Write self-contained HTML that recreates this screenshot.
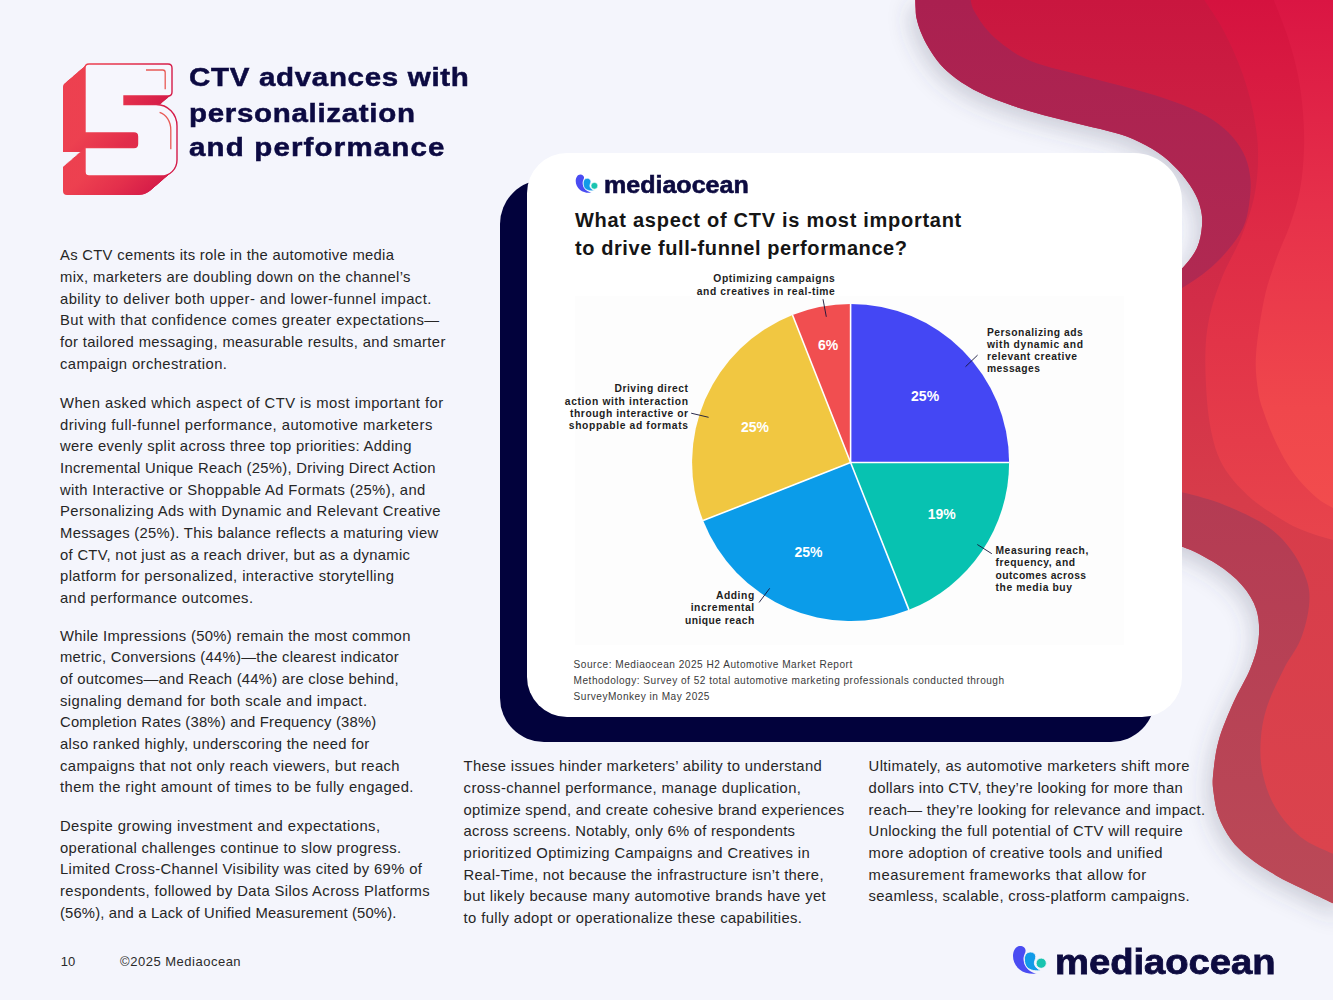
<!DOCTYPE html>
<html><head><meta charset="utf-8">
<style>
*{margin:0;padding:0;box-sizing:border-box}
html,body{width:1333px;height:1000px;overflow:hidden;background:#f4f5fc}
body{position:relative;font-family:"Liberation Sans",sans-serif}
.abs{position:absolute;left:0;top:0}
.t{position:absolute;white-space:nowrap;line-height:1;font-family:"Liberation Sans",sans-serif}
.navy{position:absolute;left:499.5px;top:180px;width:655px;height:561.5px;background:#02023c;border-radius:44px}
.card{position:absolute;left:527px;top:153px;width:655px;height:564px;background:#fff;border-radius:40px 48px 40px 40px}
.chartbg{position:absolute;left:575px;top:296px;width:549px;height:349px;background:#fdfdfd}
</style></head><body>
<svg class="abs" width="1333" height="1000" viewBox="0 0 1333 1000">
<defs>
<filter id="sh" x="-20%" y="-20%" width="140%" height="140%"><feGaussianBlur in="SourceAlpha" stdDeviation="11" result="b"/><feOffset in="b" dx="-5" dy="8" result="o"/><feFlood flood-color="#474a62" flood-opacity="0.24"/><feComposite operator="in" in2="o"/></filter>
<linearGradient id="gb" x1="0" y1="0" x2="0" y2="1000" gradientUnits="userSpaceOnUse"><stop offset="0" stop-color="#c9163f"/><stop offset="0.3" stop-color="#d22d48"/><stop offset="0.5" stop-color="#d73c4a"/><stop offset="0.85" stop-color="#db434d"/></linearGradient>
<linearGradient id="gm1" x1="0" y1="0" x2="0" y2="300" gradientUnits="userSpaceOnUse"><stop offset="0" stop-color="#aa2050"/><stop offset="1" stop-color="#b12a52"/></linearGradient>
<linearGradient id="gm2" x1="0" y1="490" x2="0" y2="900" gradientUnits="userSpaceOnUse"><stop offset="0" stop-color="#b43b53"/><stop offset="1" stop-color="#bb4957"/></linearGradient>
<linearGradient id="g3" x1="0" y1="0" x2="0" y2="540" gradientUnits="userSpaceOnUse"><stop offset="0" stop-color="#d5123f"/><stop offset="0.45" stop-color="#df2c46"/><stop offset="1" stop-color="#e8444c"/></linearGradient>
<linearGradient id="g4" x1="0" y1="0" x2="0" y2="510" gradientUnits="userSpaceOnUse"><stop offset="0" stop-color="#da1543"/><stop offset="0.4" stop-color="#e6304a"/><stop offset="0.8" stop-color="#f0474c"/><stop offset="1" stop-color="#f24c4d"/></linearGradient>
</defs>
<g>
<path d="M915.2,-2.0 C915.3,-0.3 915.4,4.7 915.6,8.0 C915.8,11.3 915.6,14.0 916.5,18.0 C917.4,22.0 918.8,27.0 920.8,32.0 C922.8,37.0 925.6,42.7 928.8,48.0 C932.0,53.3 935.5,58.9 940.0,64.0 C944.5,69.1 949.3,73.6 956.0,78.4 C962.7,83.2 970.7,88.3 980.0,92.8 C989.3,97.3 1001.3,101.9 1012.0,105.6 C1022.7,109.3 1033.3,112.3 1044.0,115.2 C1054.7,118.1 1065.3,120.6 1076.0,123.2 C1086.7,125.8 1098.5,128.4 1108.0,131.0 C1117.5,133.6 1124.7,135.4 1133.0,139.0 C1141.3,142.6 1150.5,147.3 1158.0,152.5 C1165.5,157.7 1172.2,163.8 1178.0,170.0 C1183.8,176.2 1189.2,183.7 1193.0,190.0 C1196.8,196.3 1199.0,202.0 1200.5,208.0 C1202.0,214.0 1202.6,219.3 1202.0,226.0 C1201.4,232.7 1200.2,241.1 1197.0,248.0 C1193.8,254.9 1188.3,261.8 1183.0,267.5 C1177.7,273.2 1168.0,279.6 1165.0,282.0 L1150,300 L1150,540 L1160,545 C1163.8,545.3 1173.6,543.8 1183.0,547.0 C1192.4,550.2 1206.8,557.7 1216.6,564.0 C1226.4,570.3 1235.1,577.3 1241.8,585.0 C1248.5,592.7 1253.7,600.9 1256.5,610.0 C1259.3,619.1 1259.6,629.8 1258.6,639.6 C1257.5,649.4 1254.4,658.5 1250.2,669.0 C1246.0,679.5 1238.7,690.7 1233.4,702.6 C1228.2,714.5 1222.1,728.5 1218.7,740.4 C1215.3,752.3 1214.1,765.4 1213.2,774.0 C1212.3,782.6 1212.6,785.0 1213.5,792.0 C1214.4,799.0 1215.5,808.1 1218.4,816.0 C1221.3,823.9 1225.9,832.5 1231.0,839.4 C1236.1,846.3 1241.5,851.4 1249.0,857.4 C1256.5,863.4 1267.0,870.1 1276.0,875.4 C1285.0,880.7 1293.5,884.4 1303.0,889.0 C1312.5,893.6 1326.0,899.9 1333.0,903.3 C1340.0,906.7 1343.0,908.5 1345.0,909.5 L1345,-2 Z" fill="#000" filter="url(#sh)"/>
<path d="M915.2,-2.0 C915.3,-0.3 915.4,4.7 915.6,8.0 C915.8,11.3 915.6,14.0 916.5,18.0 C917.4,22.0 918.8,27.0 920.8,32.0 C922.8,37.0 925.6,42.7 928.8,48.0 C932.0,53.3 935.5,58.9 940.0,64.0 C944.5,69.1 949.3,73.6 956.0,78.4 C962.7,83.2 970.7,88.3 980.0,92.8 C989.3,97.3 1001.3,101.9 1012.0,105.6 C1022.7,109.3 1033.3,112.3 1044.0,115.2 C1054.7,118.1 1065.3,120.6 1076.0,123.2 C1086.7,125.8 1098.5,128.4 1108.0,131.0 C1117.5,133.6 1124.7,135.4 1133.0,139.0 C1141.3,142.6 1150.5,147.3 1158.0,152.5 C1165.5,157.7 1172.2,163.8 1178.0,170.0 C1183.8,176.2 1189.2,183.7 1193.0,190.0 C1196.8,196.3 1199.0,202.0 1200.5,208.0 C1202.0,214.0 1202.6,219.3 1202.0,226.0 C1201.4,232.7 1200.2,241.1 1197.0,248.0 C1193.8,254.9 1188.3,261.8 1183.0,267.5 C1177.7,273.2 1168.0,279.6 1165.0,282.0 L1150,300 L1150,540 L1160,545 C1163.8,545.3 1173.6,543.8 1183.0,547.0 C1192.4,550.2 1206.8,557.7 1216.6,564.0 C1226.4,570.3 1235.1,577.3 1241.8,585.0 C1248.5,592.7 1253.7,600.9 1256.5,610.0 C1259.3,619.1 1259.6,629.8 1258.6,639.6 C1257.5,649.4 1254.4,658.5 1250.2,669.0 C1246.0,679.5 1238.7,690.7 1233.4,702.6 C1228.2,714.5 1222.1,728.5 1218.7,740.4 C1215.3,752.3 1214.1,765.4 1213.2,774.0 C1212.3,782.6 1212.6,785.0 1213.5,792.0 C1214.4,799.0 1215.5,808.1 1218.4,816.0 C1221.3,823.9 1225.9,832.5 1231.0,839.4 C1236.1,846.3 1241.5,851.4 1249.0,857.4 C1256.5,863.4 1267.0,870.1 1276.0,875.4 C1285.0,880.7 1293.5,884.4 1303.0,889.0 C1312.5,893.6 1326.0,899.9 1333.0,903.3 C1340.0,906.7 1343.0,908.5 1345.0,909.5 L1345,-2 Z" fill="url(#gb)"/>
<path d="M915.2,-2.0 C915.3,-0.3 915.4,4.7 915.6,8.0 C915.8,11.3 915.6,14.0 916.5,18.0 C917.4,22.0 918.8,27.0 920.8,32.0 C922.8,37.0 925.6,42.7 928.8,48.0 C932.0,53.3 935.5,58.9 940.0,64.0 C944.5,69.1 949.3,73.6 956.0,78.4 C962.7,83.2 970.7,88.3 980.0,92.8 C989.3,97.3 1001.3,101.9 1012.0,105.6 C1022.7,109.3 1033.3,112.3 1044.0,115.2 C1054.7,118.1 1065.3,120.6 1076.0,123.2 C1086.7,125.8 1098.5,128.4 1108.0,131.0 C1117.5,133.6 1124.7,135.4 1133.0,139.0 C1141.3,142.6 1150.5,147.3 1158.0,152.5 C1165.5,157.7 1172.2,163.8 1178.0,170.0 C1183.8,176.2 1189.2,183.7 1193.0,190.0 C1196.8,196.3 1199.0,202.0 1200.5,208.0 C1202.0,214.0 1202.6,219.3 1202.0,226.0 C1201.4,232.7 1200.2,241.1 1197.0,248.0 C1193.8,254.9 1188.3,261.8 1183.0,267.5 C1177.7,273.2 1168.0,279.6 1165.0,282.0 L1160.0,300.0 C1163.8,297.9 1175.0,292.5 1183.0,287.5 C1191.0,282.5 1200.5,276.2 1208.0,270.0 C1215.5,263.8 1222.2,257.0 1228.0,250.0 C1233.8,243.0 1239.5,235.5 1243.0,228.0 C1246.5,220.5 1247.8,213.0 1249.0,205.0 C1250.2,197.0 1251.1,187.9 1250.5,180.0 C1249.9,172.1 1248.4,164.6 1245.5,157.5 C1242.6,150.4 1238.4,143.8 1233.0,137.5 C1227.6,131.2 1221.3,125.4 1213.0,120.0 C1204.7,114.6 1194.2,109.6 1183.0,105.0 C1171.8,100.4 1158.0,96.2 1145.5,92.5 C1133.0,88.8 1119.6,85.6 1108.0,82.5 C1096.4,79.4 1086.7,76.8 1076.0,74.0 C1065.3,71.2 1053.3,68.6 1044.0,65.6 C1034.7,62.6 1027.5,60.0 1020.0,56.0 C1012.5,52.0 1005.1,46.4 999.2,41.6 C993.3,36.8 988.8,32.0 984.8,27.2 C980.8,22.4 977.3,16.3 975.2,12.8 C973.1,9.3 972.8,8.5 972.0,6.0 C971.2,3.5 970.7,-0.7 970.4,-2.0 Z" fill="url(#gm1)"/>
<path d="M1203.0,-2.0 C1205.9,2.5 1215.5,16.3 1220.5,25.0 C1225.5,33.7 1229.2,41.7 1233.0,50.0 C1236.8,58.3 1240.1,66.7 1243.0,75.0 C1245.9,83.3 1248.4,91.7 1250.5,100.0 C1252.6,108.3 1254.2,116.7 1255.5,125.0 C1256.8,133.3 1257.8,141.2 1258.0,150.0 C1258.2,158.8 1258.0,168.7 1257.0,178.0 C1256.0,187.3 1254.8,195.7 1252.0,206.0 C1249.2,216.3 1244.8,228.5 1240.0,240.0 C1235.2,251.5 1227.9,262.9 1223.0,275.0 C1218.1,287.1 1213.4,300.0 1210.5,312.5 C1207.6,325.0 1206.1,335.4 1205.5,350.0 C1204.9,364.6 1205.9,385.8 1207.0,400.0 C1208.1,414.2 1209.8,425.0 1212.0,435.0 C1214.2,445.0 1216.5,452.5 1220.0,460.0 C1223.5,467.5 1227.5,473.3 1233.0,480.0 C1238.5,486.7 1246.3,494.3 1253.0,500.0 C1259.7,505.7 1266.3,509.7 1273.0,514.0 C1279.7,518.3 1286.3,522.7 1293.0,526.0 C1299.7,529.3 1306.3,531.7 1313.0,534.0 C1319.7,536.3 1327.7,538.5 1333.0,540.0 C1338.3,541.5 1343.0,542.5 1345.0,543.0 L1345,-2 Z" fill="url(#g3)"/>
<path d="M1273.0,-2.0 C1275.5,4.6 1283.8,24.7 1288.0,37.5 C1292.2,50.3 1295.5,62.5 1298.0,75.0 C1300.5,87.5 1302.0,100.0 1303.0,112.5 C1304.0,125.0 1304.5,137.1 1304.0,150.0 C1303.5,162.9 1302.3,177.5 1300.0,190.0 C1297.7,202.5 1294.0,213.3 1290.0,225.0 C1286.0,236.7 1280.3,247.5 1276.0,260.0 C1271.7,272.5 1267.3,284.2 1264.0,300.0 C1260.7,315.8 1257.0,340.0 1256.0,355.0 C1255.0,370.0 1256.8,380.8 1258.0,390.0 C1259.2,399.2 1260.5,402.3 1263.0,410.0 C1265.5,417.7 1269.3,427.7 1273.0,436.0 C1276.7,444.3 1280.7,452.7 1285.0,460.0 C1289.3,467.3 1293.7,473.7 1299.0,480.0 C1304.3,486.3 1311.3,493.3 1317.0,498.0 C1322.7,502.7 1328.3,505.5 1333.0,508.0 C1337.7,510.5 1343.0,512.2 1345.0,513.0 L1345,-2 Z" fill="url(#g4)"/>
<path d="M1160.0,545.0 C1163.8,545.3 1173.6,543.8 1183.0,547.0 C1192.4,550.2 1206.8,557.7 1216.6,564.0 C1226.4,570.3 1235.1,577.3 1241.8,585.0 C1248.5,592.7 1253.7,600.9 1256.5,610.0 C1259.3,619.1 1259.6,629.8 1258.6,639.6 C1257.5,649.4 1254.4,658.5 1250.2,669.0 C1246.0,679.5 1238.7,690.7 1233.4,702.6 C1228.2,714.5 1222.1,728.5 1218.7,740.4 C1215.3,752.3 1214.1,765.4 1213.2,774.0 C1212.3,782.6 1212.6,785.0 1213.5,792.0 C1214.4,799.0 1215.5,808.1 1218.4,816.0 C1221.3,823.9 1225.9,832.5 1231.0,839.4 C1236.1,846.3 1241.5,851.4 1249.0,857.4 C1256.5,863.4 1267.0,870.1 1276.0,875.4 C1285.0,880.7 1293.5,884.4 1303.0,889.0 C1312.5,893.6 1326.0,899.9 1333.0,903.3 C1340.0,906.7 1343.0,908.5 1345.0,909.5 L1345.0,858.0 C1343.0,857.3 1340.4,857.3 1333.0,853.8 C1325.6,850.3 1310.2,844.7 1300.6,837.0 C1291.0,829.3 1281.7,818.1 1275.4,807.6 C1269.1,797.1 1265.2,785.2 1262.8,774.0 C1260.3,762.8 1260.0,751.6 1260.7,740.4 C1261.4,729.2 1263.2,718.7 1267.0,706.8 C1270.8,694.9 1278.2,680.2 1283.8,669.0 C1289.4,657.8 1296.4,650.1 1300.6,639.6 C1304.8,629.1 1308.0,615.8 1309.0,606.0 C1310.0,596.2 1309.7,589.9 1306.9,580.8 C1304.1,571.7 1298.9,560.5 1292.2,551.4 C1285.5,542.3 1278.2,533.9 1267.0,526.2 C1255.8,518.5 1239.0,510.8 1225.0,505.2 C1211.0,499.6 1193.8,495.1 1183.0,492.6 C1172.2,490.1 1163.8,490.4 1160.0,490.0 Z" fill="url(#gm2)"/>
</g>
</svg>
<svg class="abs" width="1333" height="1000" viewBox="0 0 1333 1000">
<defs>
<linearGradient id="g5" x1="60" y1="0" x2="175" y2="0" gradientUnits="userSpaceOnUse"><stop offset="0" stop-color="#f24a52"/><stop offset="0.6" stop-color="#e4304c"/><stop offset="1" stop-color="#d41a48"/></linearGradient>
<path id="five" d="M85,68 Q85,64 89,64 L168,64 Q172,64 172,68 L172,92 Q172,96 168,96 L124,96 L124,104.5 L156,104.5 C168,104.5 177,114 177,126 L177,160 C177,169 170,176 161,176 L89,176 Q85,176 85,172 L85,147.5 L134,147.5 Q137.5,147.5 137.5,144 L137.5,136.5 Q137.5,133 134,133 L85,133 Z"/>
</defs>
<g fill="url(#g5)">
<use href="#five" transform="translate(-22.00,19.00)"/>
<use href="#five" transform="translate(-21.08,18.21)"/>
<use href="#five" transform="translate(-20.17,17.42)"/>
<use href="#five" transform="translate(-19.25,16.62)"/>
<use href="#five" transform="translate(-18.33,15.83)"/>
<use href="#five" transform="translate(-17.42,15.04)"/>
<use href="#five" transform="translate(-16.50,14.25)"/>
<use href="#five" transform="translate(-15.58,13.46)"/>
<use href="#five" transform="translate(-14.67,12.67)"/>
<use href="#five" transform="translate(-13.75,11.88)"/>
<use href="#five" transform="translate(-12.83,11.08)"/>
<use href="#five" transform="translate(-11.92,10.29)"/>
<use href="#five" transform="translate(-11.00,9.50)"/>
<use href="#five" transform="translate(-10.08,8.71)"/>
<use href="#five" transform="translate(-9.17,7.92)"/>
<use href="#five" transform="translate(-8.25,7.12)"/>
<use href="#five" transform="translate(-7.33,6.33)"/>
<use href="#five" transform="translate(-6.42,5.54)"/>
<use href="#five" transform="translate(-5.50,4.75)"/>
<use href="#five" transform="translate(-4.58,3.96)"/>
<use href="#five" transform="translate(-3.67,3.17)"/>
<use href="#five" transform="translate(-2.75,2.38)"/>
<use href="#five" transform="translate(-1.83,1.58)"/>
<use href="#five" transform="translate(-0.92,0.79)"/>
</g>
<use href="#five" fill="#f6f6fd" stroke="url(#g5)" stroke-width="1.4"/>
<path d="M146,70 L162.7,70 Q165.2,70 165.2,72.5 L165.2,89.2" fill="none" stroke="#e85a55" stroke-width="1.3"/>
<path d="M159.6,112.4 C166,114.5 170.8,121 170.8,130 L170.8,149.2" fill="none" stroke="#e85a55" stroke-width="1.3"/>
</svg>
<div class="navy"></div>
<div class="card"></div>
<div class="chartbg"></div>
<svg class="abs" width="1333" height="1000" viewBox="0 0 1333 1000">
<defs>
<g id="moicon">
<path d="M300,150 C380,150 440,200 440,270 C440,320 400,360 390,440 C380,560 430,700 560,780 C620,815 680,835 720,840 C560,860 400,830 290,740 C180,650 125,520 125,400 C125,260 200,150 300,150 Z" fill="#4a4cf2"/>
<path d="M560,300 C640,300 695,350 695,420 C695,480 650,530 660,600 C680,690 760,740 830,760 C700,790 560,760 480,690 C430,640 410,560 410,470 C410,370 470,300 560,300 Z" fill="#129be8" stroke="#f4f5fc" stroke-width="22"/>
<circle cx="830" cy="580" r="128" fill="#18c4b0" stroke="#f4f5fc" stroke-width="22"/>
</g>
<g id="moicon2">
<path d="M300,150 C380,150 440,200 440,270 C440,320 400,360 390,440 C380,560 430,700 560,780 C620,815 680,835 720,840 C560,860 400,830 290,740 C180,650 125,520 125,400 C125,260 200,150 300,150 Z" fill="#4a4cf2"/>
<path d="M560,300 C640,300 695,350 695,420 C695,480 650,530 660,600 C680,690 760,740 830,760 C700,790 560,760 480,690 C430,640 410,560 410,470 C410,370 470,300 560,300 Z" fill="#129be8" stroke="#ffffff" stroke-width="22"/>
<circle cx="830" cy="580" r="128" fill="#18c4b0" stroke="#ffffff" stroke-width="22"/>
</g>
</defs>
<use href="#moicon" transform="translate(1008,940) scale(0.04)"/>
<use href="#moicon2" transform="translate(572.4,170.4) scale(0.0265)"/>
<path d="M850.6,462.5 L850.60,304.00 A158.5,158.5 0 0 1 1009.10,462.50 Z" fill="#4447f4"/>
<path d="M850.6,462.5 L1009.10,462.50 A158.5,158.5 0 0 1 908.95,609.87 Z" fill="#07c2b1"/>
<path d="M850.6,462.5 L908.95,609.87 A158.5,158.5 0 0 1 703.13,520.59 Z" fill="#0b9ce9"/>
<path d="M850.6,462.5 L703.13,520.59 A158.5,158.5 0 0 1 792.51,315.03 Z" fill="#f1c741"/>
<path d="M850.6,462.5 L792.51,315.03 A158.5,158.5 0 0 1 850.60,304.00 Z" fill="#f14e50"/>
<line x1="850.6" y1="462.5" x2="850.60" y2="304.00" stroke="#fff" stroke-width="1.6"/>
<line x1="850.6" y1="462.5" x2="1009.10" y2="462.50" stroke="#fff" stroke-width="1.6"/>
<line x1="850.6" y1="462.5" x2="908.95" y2="609.87" stroke="#fff" stroke-width="1.6"/>
<line x1="850.6" y1="462.5" x2="703.13" y2="520.59" stroke="#fff" stroke-width="1.6"/>
<line x1="850.6" y1="462.5" x2="792.51" y2="315.03" stroke="#fff" stroke-width="1.6"/>
<g stroke="#14143a" stroke-width="0.9">
<line x1="823" y1="299.2" x2="826.3" y2="316.8"/>
<line x1="977.6" y1="355.1" x2="965.5" y2="366.7"/>
<line x1="691.2" y1="413.2" x2="708.6" y2="417.3"/>
<line x1="977.3" y1="544.5" x2="991.8" y2="553.7"/>
<line x1="759.1" y1="602.5" x2="769.7" y2="588.3"/>
</g>
<g fill="#fff" font-family="Liberation Sans" font-weight="700" font-size="14" text-anchor="middle">
<text x="925.1" y="400.7">25%</text>
<text x="755" y="432">25%</text>
<text x="828" y="350.2">6%</text>
<text x="941.7" y="518.8">19%</text>
<text x="808.5" y="557">25%</text>
</g>
</svg>
<div class="t" style="left:60.0px;top:248.4px;font-size:14.8px;font-weight:400;color:#262626;letter-spacing:0.304px;">As CTV cements its role in the automotive media</div>
<div class="t" style="left:60.0px;top:270.0px;font-size:14.8px;font-weight:400;color:#262626;letter-spacing:0.351px;">mix, marketers are doubling down on the channel’s</div>
<div class="t" style="left:60.0px;top:291.7px;font-size:14.8px;font-weight:400;color:#262626;letter-spacing:0.450px;">ability to deliver both upper- and lower-funnel impact.</div>
<div class="t" style="left:60.0px;top:313.3px;font-size:14.8px;font-weight:400;color:#262626;letter-spacing:0.418px;">But with that confidence comes greater expectations—</div>
<div class="t" style="left:60.0px;top:335.0px;font-size:14.8px;font-weight:400;color:#262626;letter-spacing:0.358px;">for tailored messaging, measurable results, and smarter</div>
<div class="t" style="left:60.0px;top:356.6px;font-size:14.8px;font-weight:400;color:#262626;letter-spacing:0.408px;">campaign orchestration.</div>
<div class="t" style="left:60.0px;top:396.0px;font-size:14.8px;font-weight:400;color:#262626;letter-spacing:0.449px;">When asked which aspect of CTV is most important for</div>
<div class="t" style="left:60.0px;top:417.6px;font-size:14.8px;font-weight:400;color:#262626;letter-spacing:0.438px;">driving full-funnel performance, automotive marketers</div>
<div class="t" style="left:60.0px;top:439.3px;font-size:14.8px;font-weight:400;color:#262626;letter-spacing:0.352px;">were evenly split across three top priorities: Adding</div>
<div class="t" style="left:60.0px;top:460.9px;font-size:14.8px;font-weight:400;color:#262626;letter-spacing:0.292px;">Incremental Unique Reach (25%), Driving Direct Action</div>
<div class="t" style="left:60.0px;top:482.6px;font-size:14.8px;font-weight:400;color:#262626;letter-spacing:0.364px;">with Interactive or Shoppable Ad Formats (25%), and</div>
<div class="t" style="left:60.0px;top:504.2px;font-size:14.8px;font-weight:400;color:#262626;letter-spacing:0.399px;">Personalizing Ads with Dynamic and Relevant Creative</div>
<div class="t" style="left:60.0px;top:525.9px;font-size:14.8px;font-weight:400;color:#262626;letter-spacing:0.303px;">Messages (25%). This balance reflects a maturing view</div>
<div class="t" style="left:60.0px;top:547.5px;font-size:14.8px;font-weight:400;color:#262626;letter-spacing:0.308px;">of CTV, not just as a reach driver, but as a dynamic</div>
<div class="t" style="left:60.0px;top:569.2px;font-size:14.8px;font-weight:400;color:#262626;letter-spacing:0.411px;">platform for personalized, interactive storytelling</div>
<div class="t" style="left:60.0px;top:590.8px;font-size:14.8px;font-weight:400;color:#262626;letter-spacing:0.365px;">and performance outcomes.</div>
<div class="t" style="left:60.0px;top:628.6px;font-size:14.8px;font-weight:400;color:#262626;letter-spacing:0.331px;">While Impressions (50%) remain the most common</div>
<div class="t" style="left:60.0px;top:650.2px;font-size:14.8px;font-weight:400;color:#262626;letter-spacing:0.275px;">metric, Conversions (44%)—the clearest indicator</div>
<div class="t" style="left:60.0px;top:671.9px;font-size:14.8px;font-weight:400;color:#262626;letter-spacing:0.255px;">of outcomes—and Reach (44%) are close behind,</div>
<div class="t" style="left:60.0px;top:693.5px;font-size:14.8px;font-weight:400;color:#262626;letter-spacing:0.416px;">signaling demand for both scale and impact.</div>
<div class="t" style="left:60.0px;top:715.2px;font-size:14.8px;font-weight:400;color:#262626;letter-spacing:0.212px;">Completion Rates (38%) and Frequency (38%)</div>
<div class="t" style="left:60.0px;top:736.8px;font-size:14.8px;font-weight:400;color:#262626;letter-spacing:0.322px;">also ranked highly, underscoring the need for</div>
<div class="t" style="left:60.0px;top:758.5px;font-size:14.8px;font-weight:400;color:#262626;letter-spacing:0.383px;">campaigns that not only reach viewers, but reach</div>
<div class="t" style="left:60.0px;top:780.1px;font-size:14.8px;font-weight:400;color:#262626;letter-spacing:0.407px;">them the right amount of times to be fully engaged.</div>
<div class="t" style="left:60.0px;top:819.1px;font-size:14.8px;font-weight:400;color:#262626;letter-spacing:0.422px;">Despite growing investment and expectations,</div>
<div class="t" style="left:60.0px;top:840.7px;font-size:14.8px;font-weight:400;color:#262626;letter-spacing:0.354px;">operational challenges continue to slow progress.</div>
<div class="t" style="left:60.0px;top:862.4px;font-size:14.8px;font-weight:400;color:#262626;letter-spacing:0.361px;">Limited Cross-Channel Visibility was cited by 69% of</div>
<div class="t" style="left:60.0px;top:884.0px;font-size:14.8px;font-weight:400;color:#262626;letter-spacing:0.377px;">respondents, followed by Data Silos Across Platforms</div>
<div class="t" style="left:60.0px;top:905.7px;font-size:14.8px;font-weight:400;color:#262626;letter-spacing:0.161px;">(56%), and a Lack of Unified Measurement (50%).</div>
<div class="t" style="left:463.6px;top:759.1px;font-size:14.8px;font-weight:400;color:#262626;letter-spacing:0.324px;">These issues hinder marketers’ ability to understand</div>
<div class="t" style="left:463.6px;top:780.8px;font-size:14.8px;font-weight:400;color:#262626;letter-spacing:0.387px;">cross-channel performance, manage duplication,</div>
<div class="t" style="left:463.6px;top:802.5px;font-size:14.8px;font-weight:400;color:#262626;letter-spacing:0.278px;">optimize spend, and create cohesive brand experiences</div>
<div class="t" style="left:463.6px;top:824.2px;font-size:14.8px;font-weight:400;color:#262626;letter-spacing:0.253px;">across screens. Notably, only 6% of respondents</div>
<div class="t" style="left:463.6px;top:846.0px;font-size:14.8px;font-weight:400;color:#262626;letter-spacing:0.374px;">prioritized Optimizing Campaigns and Creatives in</div>
<div class="t" style="left:463.6px;top:867.7px;font-size:14.8px;font-weight:400;color:#262626;letter-spacing:0.299px;">Real-Time, not because the infrastructure isn’t there,</div>
<div class="t" style="left:463.6px;top:889.4px;font-size:14.8px;font-weight:400;color:#262626;letter-spacing:0.373px;">but likely because many automotive brands have yet</div>
<div class="t" style="left:463.6px;top:911.1px;font-size:14.8px;font-weight:400;color:#262626;letter-spacing:0.377px;">to fully adopt or operationalize these capabilities.</div>
<div class="t" style="left:868.6px;top:759.1px;font-size:14.8px;font-weight:400;color:#262626;letter-spacing:0.394px;">Ultimately, as automotive marketers shift more</div>
<div class="t" style="left:868.6px;top:780.8px;font-size:14.8px;font-weight:400;color:#262626;letter-spacing:0.314px;">dollars into CTV, they’re looking for more than</div>
<div class="t" style="left:868.6px;top:802.5px;font-size:14.8px;font-weight:400;color:#262626;letter-spacing:0.317px;">reach— they’re looking for relevance and impact.</div>
<div class="t" style="left:868.6px;top:824.2px;font-size:14.8px;font-weight:400;color:#262626;letter-spacing:0.348px;">Unlocking the full potential of CTV will require</div>
<div class="t" style="left:868.6px;top:846.0px;font-size:14.8px;font-weight:400;color:#262626;letter-spacing:0.358px;">more adoption of creative tools and unified</div>
<div class="t" style="left:868.6px;top:867.7px;font-size:14.8px;font-weight:400;color:#262626;letter-spacing:0.518px;">measurement frameworks that allow for</div>
<div class="t" style="left:868.6px;top:889.4px;font-size:14.8px;font-weight:400;color:#262626;letter-spacing:0.322px;">seamless, scalable, cross-platform campaigns.</div>
<div class="t" style="left:189.0px;top:65.3px;font-size:25px;font-weight:700;color:#0c0a42;letter-spacing:0.579px;transform:scaleX(1.1800);transform-origin:0 0;-webkit-text-stroke:0.5px #0c0a42;">CTV advances with</div>
<div class="t" style="left:189.0px;top:100.6px;font-size:25px;font-weight:700;color:#0c0a42;letter-spacing:0.582px;transform:scaleX(1.1800);transform-origin:0 0;-webkit-text-stroke:0.5px #0c0a42;">personalization</div>
<div class="t" style="left:189.0px;top:135.1px;font-size:25px;font-weight:700;color:#0c0a42;letter-spacing:0.977px;transform:scaleX(1.1800);transform-origin:0 0;-webkit-text-stroke:0.5px #0c0a42;">and performance</div>
<div class="t" style="left:575.0px;top:210.3px;font-size:20px;font-weight:700;color:#151515;letter-spacing:0.718px;">What aspect of CTV is most important</div>
<div class="t" style="left:575.0px;top:237.9px;font-size:20px;font-weight:700;color:#151515;letter-spacing:0.583px;">to drive full-funnel performance?</div>
<div class="t" style="left:713.3px;top:273.9px;font-size:10.3px;font-weight:700;color:#1e1e1e;letter-spacing:0.613px;">Optimizing campaigns</div>
<div class="t" style="left:696.8px;top:286.7px;font-size:10.3px;font-weight:700;color:#1e1e1e;letter-spacing:0.575px;">and creatives in real-time</div>
<div class="t" style="left:986.9px;top:327.6px;font-size:10.3px;font-weight:700;color:#1e1e1e;letter-spacing:0.521px;">Personalizing ads</div>
<div class="t" style="left:986.9px;top:339.7px;font-size:10.3px;font-weight:700;color:#1e1e1e;letter-spacing:0.646px;">with dynamic and</div>
<div class="t" style="left:986.9px;top:352.1px;font-size:10.3px;font-weight:700;color:#1e1e1e;letter-spacing:0.550px;">relevant creative</div>
<div class="t" style="left:986.9px;top:364.4px;font-size:10.3px;font-weight:700;color:#1e1e1e;letter-spacing:0.470px;">messages</div>
<div class="t" style="left:614.4px;top:383.9px;font-size:10.3px;font-weight:700;color:#1e1e1e;letter-spacing:0.556px;">Driving direct</div>
<div class="t" style="left:564.8px;top:396.5px;font-size:10.3px;font-weight:700;color:#1e1e1e;letter-spacing:0.633px;">action with interaction</div>
<div class="t" style="left:570.0px;top:408.5px;font-size:10.3px;font-weight:700;color:#1e1e1e;letter-spacing:0.551px;">through interactive or</div>
<div class="t" style="left:568.8px;top:420.5px;font-size:10.3px;font-weight:700;color:#1e1e1e;letter-spacing:0.642px;">shoppable ad formats</div>
<div class="t" style="left:995.5px;top:545.8px;font-size:10.3px;font-weight:700;color:#1e1e1e;letter-spacing:0.540px;">Measuring reach,</div>
<div class="t" style="left:995.5px;top:557.8px;font-size:10.3px;font-weight:700;color:#1e1e1e;letter-spacing:0.540px;">frequency, and</div>
<div class="t" style="left:995.5px;top:570.5px;font-size:10.3px;font-weight:700;color:#1e1e1e;letter-spacing:0.414px;">outcomes across</div>
<div class="t" style="left:995.5px;top:582.5px;font-size:10.3px;font-weight:700;color:#1e1e1e;letter-spacing:0.605px;">the media buy</div>
<div class="t" style="left:715.9px;top:590.6px;font-size:10.3px;font-weight:700;color:#1e1e1e;letter-spacing:0.566px;">Adding</div>
<div class="t" style="left:690.7px;top:602.7px;font-size:10.3px;font-weight:700;color:#1e1e1e;letter-spacing:0.569px;">incremental</div>
<div class="t" style="left:684.9px;top:615.6px;font-size:10.3px;font-weight:700;color:#1e1e1e;letter-spacing:0.473px;">unique reach</div>
<div class="t" style="left:573.6px;top:659.7px;font-size:10.1px;font-weight:400;color:#3a3a3a;letter-spacing:0.513px;">Source: Mediaocean 2025 H2 Automotive Market Report</div>
<div class="t" style="left:573.6px;top:675.7px;font-size:10.1px;font-weight:400;color:#3a3a3a;letter-spacing:0.488px;">Methodology: Survey of 52 total automotive marketing professionals conducted through</div>
<div class="t" style="left:573.6px;top:691.7px;font-size:10.1px;font-weight:400;color:#3a3a3a;letter-spacing:0.493px;">SurveyMonkey in May 2025</div>
<div class="t" style="left:60.7px;top:955.0px;font-size:13px;font-weight:400;color:#2a2a2a;letter-spacing:0.031px;">10</div>
<div class="t" style="left:120.1px;top:955.0px;font-size:13px;font-weight:400;color:#2a2a2a;letter-spacing:0.504px;">©2025 Mediaocean</div>
<div class="t" style="left:1055.4px;top:943.8px;font-size:35px;font-weight:700;color:#0d0b40;letter-spacing:-0.000px;transform:scaleX(1.0904);transform-origin:0 0;-webkit-text-stroke:0.8px #0d0b40;">mediaocean</div>
<div class="t" style="left:603.5px;top:173.3px;font-size:24px;font-weight:700;color:#0d0b40;letter-spacing:0.000px;transform:scaleX(1.0430);transform-origin:0 0;-webkit-text-stroke:0.6px #0d0b40;">mediaocean</div>
</body></html>
